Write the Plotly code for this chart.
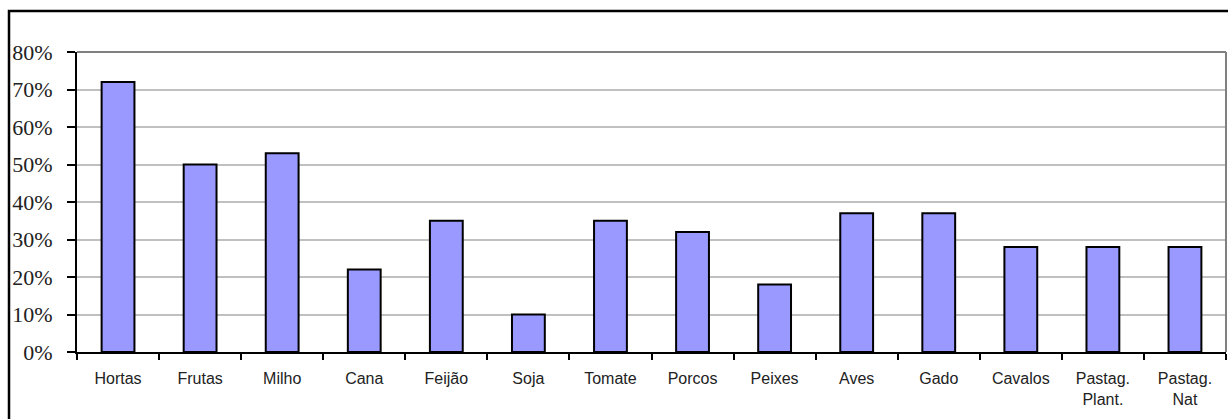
import plotly.graph_objects as go

categories = ["Hortas", "Frutas", "Milho", "Cana", "Feijão", "Soja", "Tomate", "Porcos",
              "Peixes", "Aves", "Gado", "Cavalos", "Pastag.<br>Plant.", "Pastag.<br>Nat"]
values = [0.72, 0.50, 0.53, 0.22, 0.35, 0.10, 0.35, 0.32, 0.18, 0.37, 0.37, 0.28, 0.28, 0.28]
y_ticks = [0, 0.1, 0.2, 0.3, 0.4, 0.5, 0.6, 0.7, 0.8]
y_tick_labels = ["0%", "10%", "20%", "30%", "40%", "50%", "60%", "70%", "80%"]

W, H = 1228, 419
L, R, T, B = 77, 2, 52, 67
pw, ph = W - L - R, H - T - B

def px(x):
    return (x - L) / pw

def py(y):
    return (H - B - y) / ph

fig = go.Figure()
fig.add_trace(go.Bar(
    x=categories, y=values, width=0.4,
    marker=dict(color="#9999ff", line=dict(color="black", width=2)),
))

fig.update_layout(
    width=W, height=H,
    margin=dict(l=L, r=R, t=T, b=B, pad=0),
    paper_bgcolor="white", plot_bgcolor="white",
    showlegend=False,
    xaxis=dict(
        type="category", showgrid=False, showline=True, linecolor="black", linewidth=2,
        ticks="outside", tickson="boundaries", ticklen=6, tickwidth=2, tickcolor="black",
        tickfont=dict(family="Liberation Sans, Arial", size=16, color="#222222"),
        ticklabelstandoff=11,
        zeroline=False,
    ),
    yaxis=dict(
        range=[0, 0.8], tickvals=y_ticks, ticktext=y_tick_labels,
        showgrid=True, gridcolor="#c0c0c0", gridwidth=2,
        showline=True, linecolor="black", linewidth=2,
        ticks="outside", ticklen=8, tickwidth=2, tickcolor="black",
        tickfont=dict(family="Liberation Serif, Times New Roman", size=22, color="#222222"),
        ticklabelstandoff=10,
        zeroline=False,
    ),
    shapes=[
        dict(type="line", xref="paper", yref="paper", x0=0, x1=1, y0=1, y1=1,
             line=dict(color="#808080", width=2), layer="above"),
        dict(type="line", xref="paper", yref="paper", x0=1, x1=1, y0=0, y1=1,
             line=dict(color="#808080", width=2), layer="above"),
        dict(type="rect", xref="paper", yref="paper",
             x0=px(9), x1=px(1260), y0=py(440), y1=py(11),
             line=dict(color="black", width=2.5), layer="above"),
    ],
)

fig.write_html("out.html")
